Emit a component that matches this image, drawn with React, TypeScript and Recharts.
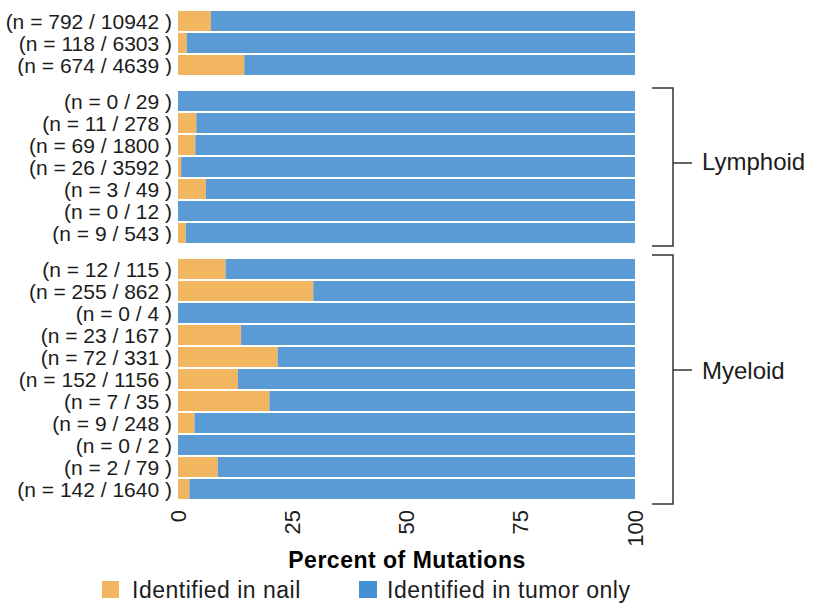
import React from 'react';
import { BarChart, Bar, XAxis, YAxis } from 'recharts';

// row labels: mutations found in nail / total mutations, grouped top to bottom
const solidNail = [792, 118, 674];
const solidTotal = [10942, 6303, 4639];
const solidPct = [7.2, 1.9, 14.5];

const lymphoidNail = [0, 11, 69, 26, 3, 0, 9];
const lymphoidTotal = [29, 278, 1800, 3592, 49, 12, 543];
const lymphoidPct = [0, 4.0, 3.8, 0.7, 6.1, 0, 1.7];

const myeloidNail = [12, 255, 0, 23, 72, 152, 7, 9, 0, 2, 142];
const myeloidTotal = [115, 862, 4, 167, 331, 1156, 35, 248, 2, 79, 1640];
const myeloidPct = [10.4, 29.6, 0, 13.8, 21.8, 13.1, 20.0, 3.6, 0, 8.7, 2.5];

const xTicks = [0, 25, 50, 75, 100];

const NAIL = '#f2b661';
const TUMOR = '#5b9bd5';
const INK = '#1c1c1c';
const FONT = '"Liberation Sans", Arial, sans-serif';

const ROW = 22;
const CHART_W = 818;
const AXIS_W = 178;

function buildRows(nail: number[], total: number[], pct: number[]) {
  return nail.map((n, i) => ({
    label: `(n = ${n} / ${total[i]} )`,
    nail: pct[i],
    tumor: 100 - pct[i],
  }));
}

const YTick = (props: any) => {
  const { x, y, payload } = props;
  return (
    <text
      x={x}
      y={y}
      textAnchor="end"
      dominantBaseline="central"
      fill={INK}
      fontSize={21}
      fontFamily={FONT}
    >
      {payload.value}
    </text>
  );
};

const XTick = (props: any) => {
  const { x, y, payload } = props;
  const ty = y + 8;
  return (
    <text
      x={x}
      y={ty}
      transform={`rotate(-90 ${x} ${ty})`}
      textAnchor="end"
      dominantBaseline="central"
      fill={INK}
      fontSize={22}
      fontFamily={FONT}
    >
      {payload.value}
    </text>
  );
};

function Group({ data, top, showAxis }: { data: any[]; top: number; showAxis?: boolean }) {
  const axisH = showAxis ? 50 : 0;
  return (
    <div style={{ position: 'absolute', left: 0, top }}>
      <BarChart
        width={CHART_W}
        height={data.length * ROW + axisH}
        data={data}
        layout="vertical"
        margin={{ top: 0, right: CHART_W - 635, bottom: 0, left: 0 }}
      >
        <XAxis
          type="number"
          domain={[0, 100]}
          ticks={xTicks}
          hide={!showAxis}
          axisLine={false}
          tickLine={false}
          tickSize={0}
          height={axisH}
          tick={<XTick />}
          interval={0}
        />
        <YAxis
          type="category"
          dataKey="label"
          width={AXIS_W}
          axisLine={false}
          tickLine={false}
          tickSize={0}
          tickMargin={6}
          tick={<YTick />}
          interval={0}
        />
        <Bar dataKey="nail" stackId="a" fill={NAIL} barSize={20} isAnimationActive={false} />
        <Bar dataKey="tumor" stackId="a" fill={TUMOR} barSize={20} isAnimationActive={false} />
      </BarChart>
    </div>
  );
}

export default function App() {
  const solid = buildRows(solidNail, solidTotal, solidPct);
  const lymphoid = buildRows(lymphoidNail, lymphoidTotal, lymphoidPct);
  const myeloid = buildRows(myeloidNail, myeloidTotal, myeloidPct);

  return (
    <div
      style={{
        position: 'absolute',
        left: 0,
        top: 0,
        width: 818,
        height: 604,
        background: '#fff',
        fontFamily: FONT,
      }}
    >
      <Group data={solid} top={10} />
      <Group data={lymphoid} top={90} />
      <Group data={myeloid} top={258} showAxis />

      {/* group brackets, axis title and legend */}
      <svg width={818} height={604} style={{ position: 'absolute', left: 0, top: 0, pointerEvents: 'none' }}>
        <g stroke="#333" strokeWidth={1.5} fill="none">
          <polyline points="652,88 673,88 673,246 652,246" />
          <line x1={673} y1={163} x2={692} y2={163} />
          <polyline points="652,255 673,255 673,504 652,504" />
          <line x1={673} y1={370} x2={692} y2={370} />
        </g>
        <g fill={INK} fontSize={24} fontFamily={FONT}>
          <text x={702} y={161} dominantBaseline="central">Lymphoid</text>
          <text x={702} y={370} dominantBaseline="central">Myeloid</text>
        </g>
        <text
          x={407}
          y={568}
          textAnchor="middle"
          fontWeight="bold"
          fontSize={23}
          letterSpacing={0.5}
          fill="#000"
          fontFamily={FONT}
        >
          Percent of Mutations
        </text>
        <rect x={102} y={581} width={17} height={17} fill={NAIL} />
        <text x={132} y={598} fontSize={23} letterSpacing={0.5} fill={INK} fontFamily={FONT}>
          Identified in nail
        </text>
        <rect x={359} y={581} width={18} height={17} fill="#4391d2" />
        <text x={387} y={598} fontSize={23} letterSpacing={0.5} fill={INK} fontFamily={FONT}>
          Identified in tumor only
        </text>
      </svg>
    </div>
  );
}
